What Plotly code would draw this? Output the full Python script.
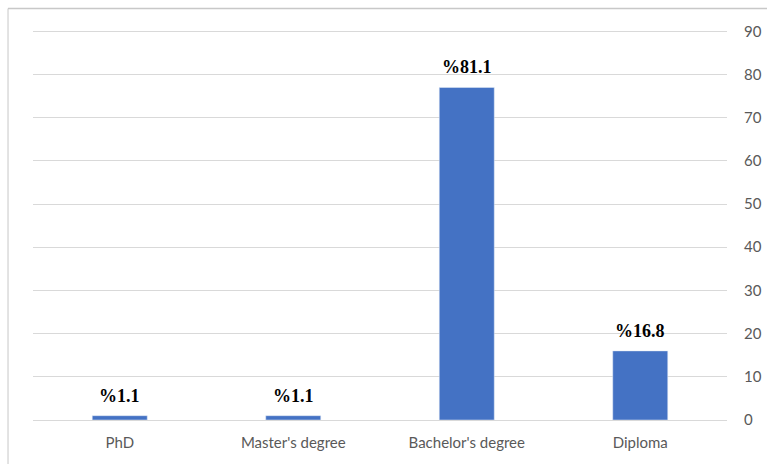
import plotly.graph_objects as go

categories = ["PhD", "Master's degree", "Bachelor's degree", "Diploma"]
values = [1, 1, 77, 16]
labels = ["%1.1", "%1.1", "%81.1", "%16.8"]
y_ticks = [0, 10, 20, 30, 40, 50, 60, 70, 80, 90]

fig = go.Figure()
fig.add_trace(go.Bar(
    x=categories, y=values, marker_color="#4472C4", width=0.317,
    hoverinfo="skip",
))

for c, v, t in zip(categories, values, labels):
    fig.add_annotation(
        x=c, y=v, text="<b>" + t + "</b>", showarrow=False,
        yanchor="bottom", yshift=8,
        font=dict(family="Liberation Serif", size=18, color="#000000"),
    )

# outer chart border (top and left visible)
fig.add_shape(type="line", xref="paper", yref="paper",
              x0=-0.036, x1=1.06, y0=1.055, y1=1.055,
              line=dict(color="#c8c8c8", width=1.5))
fig.add_shape(type="line", xref="paper", yref="paper",
              x0=-0.036, x1=-0.036, y0=1.055, y1=-0.2,
              line=dict(color="#c8c8c8", width=1))

fig.update_layout(
    width=767, height=464,
    margin=dict(l=33, r=40, t=30, b=44),
    paper_bgcolor="white", plot_bgcolor="white",
    showlegend=False,
    font=dict(family="Lato", color="#595959", size=15),
    xaxis=dict(
        showgrid=False, showline=False, ticks="", ticklabelstandoff=12,
        automargin=False,
        tickfont=dict(family="Lato", size=15, color="#595959"),
    ),
    yaxis=dict(
        side="right", range=[0, 90.3], tickvals=y_ticks, automargin=False,
        showgrid=True, gridcolor="#d9d9d9", gridwidth=1,
        zeroline=True, zerolinecolor="#d9d9d9", zerolinewidth=1,
        showline=False, ticks="", ticklabelstandoff=16,
        tickfont=dict(family="Lato", size=15, color="#595959"),
    ),
)

fig.write_html("out.html")
